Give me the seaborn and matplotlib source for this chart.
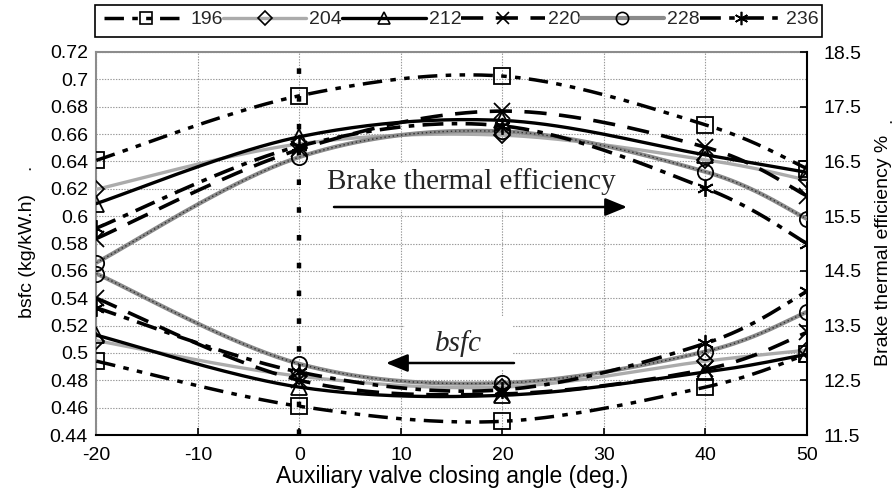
import numpy as np
import matplotlib
matplotlib.use("Agg")
import matplotlib.pyplot as plt
import seaborn as sns
from matplotlib.lines import Line2D
from matplotlib.patches import Rectangle
from matplotlib.transforms import Bbox, TransformedBbox

# ---------------- data ----------------
angles = [-20, 0, 20, 40, 50]
series_names = ["196", "204", "212", "220", "228", "236"]

bsfc_196 = [0.494, 0.461, 0.450, 0.475, 0.499]
bsfc_204 = [0.509, 0.483, 0.475, 0.494, 0.502]
bsfc_212 = [0.513, 0.475, 0.469, 0.486, 0.499]
bsfc_220 = [0.540, 0.480, 0.470, 0.488, 0.515]
bsfc_228 = [0.558, 0.492, 0.478, 0.501, 0.530]
bsfc_236 = [0.533, 0.486, 0.473, 0.507, 0.545]

bte_196 = [16.52, 17.70, 18.06, 17.17, 16.37]
bte_204 = [15.99, 16.82, 16.98, 16.53, 16.16]
bte_212 = [15.73, 16.95, 17.25, 16.62, 16.30]
bte_220 = [15.09, 16.72, 17.42, 16.76, 15.87]
bte_228 = [14.65, 16.58, 17.05, 16.31, 15.45]
bte_236 = [15.28, 16.78, 17.15, 16.01, 15.00]

bsfc_all = [bsfc_196, bsfc_204, bsfc_212, bsfc_220, bsfc_228, bsfc_236]
bte_all = [bte_196, bte_204, bte_212, bte_220, bte_228, bte_236]

# ---------------- styles ----------------
styles = [
    dict(color="black", lw=2.5, ls=(0, (14, 6, 4, 6, 4, 6)), marker="s", ms=11),
    dict(color="#ababab", lw=2.4, ls="-", marker="D", ms=8.5),
    dict(color="black", lw=2.4, ls="-", marker="^", ms=11),
    dict(color="black", lw=2.6, ls=(0, (16, 9)), marker="x", ms=11),
    dict(color="#8a8a8a", lw=3.0, ls="-", marker="o", ms=11),
    dict(color="black", lw=2.6, ls=(0, (15, 6, 4, 6)), marker=(6, 2, 0), ms=12),
]

sns.set_theme(style="white")
plt.rcParams["font.family"] = ["Liberation Sans", "DejaVu Sans"]
plt.rcParams["lines.scale_dashes"] = False

W, H = 894, 496
fig = plt.figure(figsize=(W / 100, H / 100), dpi=100)
L, R, T, B = 96.3, 807, 52, 435
ax = fig.add_axes([L / W, 1 - B / H, (R - L) / W, (B - T) / H])
ax2 = ax.twinx()


def smooth(xs, ys, n=40):
    P = np.column_stack([xs, ys]).astype(float)
    m = len(P)
    pts = []
    for i in range(m - 1):
        p0 = P[i - 1] if i > 0 else P[i]
        p1, p2 = P[i], P[i + 1]
        p3 = P[i + 2] if i + 2 < m else P[i + 1]
        c1 = p1 + (p2 - p0) / 6.0
        c2 = p2 - (p3 - p1) / 6.0
        t = np.linspace(0, 1, n)[:, None]
        if i > 0:
            t = t[1:]
        seg = ((1 - t) ** 3) * p1 + 3 * ((1 - t) ** 2) * t * c1 + 3 * (1 - t) * t ** 2 * c2 + t ** 3 * p2
        pts.append(seg)
    return np.vstack(pts)


def draw(axis, vals, st, idx):
    c = smooth(angles, vals)
    sns.lineplot(x=c[:, 0], y=c[:, 1], ax=axis, sort=False, estimator=None,
                 color=st["color"], linewidth=st["lw"], linestyle=st["ls"], zorder=3)
    if idx == 4:  # textured dark dots on the 228 line
        sns.lineplot(x=c[:, 0], y=c[:, 1], ax=axis, sort=False, estimator=None,
                     color="#303030", linewidth=1.0, linestyle=(0, (1, 2)), zorder=3)
    sns.lineplot(x=angles, y=vals, ax=axis, sort=False, estimator=None,
                 linestyle="", marker=st["marker"], markersize=st["ms"],
                 markerfacecolor="none", markeredgecolor="black",
                 markeredgewidth=1.3, color="black", zorder=4)


for i, st in enumerate(styles):
    draw(ax, bsfc_all[i], st, i)
    draw(ax2, bte_all[i], st, i)

ax.set_xlim(-20, 50)
ax.set_ylim(0.44, 0.72)
ax2.set_ylim(11.5, 18.5)

ax.set_xticks([-20, -10, 0, 10, 20, 30, 40, 50])
ax.set_xticklabels(["-20", "-10", "0", "10", "20", "30", "40", "50"])
yt = np.round(np.arange(0.44, 0.7201, 0.02), 2)
ax.set_yticks(yt)
ax.set_yticklabels([("%g" % v) for v in yt])
ax2.set_yticks([11.5, 12.5, 13.5, 14.5, 15.5, 16.5, 17.5, 18.5])
ax2.set_yticklabels(["11.5", "12.5", "13.5", "14.5", "15.5", "16.5", "17.5", "18.5"])

ax.grid(True, which="major", color="#9a9a9a", linestyle=(0, (1, 1)), linewidth=0.8)
ax.set_axisbelow(True)
ax2.grid(False)

for s in ["left", "top"]:
    ax.spines[s].set_color("#8c8c8c")
    ax.spines[s].set_linewidth(1.5)
ax.spines["bottom"].set_color("black")
ax.spines["bottom"].set_linewidth(1.5)
ax.spines["right"].set_visible(False)
for s in ["left", "top", "bottom"]:
    ax2.spines[s].set_visible(False)
ax2.spines["right"].set_color("black")
ax2.spines["right"].set_linewidth(1.5)

ax.tick_params(axis="x", direction="in", length=5, width=1.2, color="black",
               labelsize=14, pad=9, bottom=True, top=False)
ax.tick_params(axis="y", length=0, labelsize=14, pad=6, left=True)
ax2.tick_params(axis="y", direction="in", length=5, width=1.2, color="black",
                labelsize=14, pad=12, right=True)
for lab in ax.get_xticklabels() + ax.get_yticklabels() + ax2.get_yticklabels():
    lab.set_color("black")

ax.set_xlabel("Auxiliary valve closing angle (deg.)", fontsize=16.5, color="black", labelpad=0)
ax.set_ylabel("")
ax2.set_ylabel("")

fig.text(28 / W, 1 - 256 / H, "bsfc (kg/kW.h)", rotation=90, ha="center", va="center",
         fontsize=14, color="black")
fig.text(26 / W, 1 - 167 / H, ".", rotation=90, ha="center", va="center", fontsize=14)
fig.text(884 / W, 1 - 250 / H, "Brake thermal efficiency %", rotation=90, ha="center",
         va="center", fontsize=14, color="black")
fig.text(887 / W, 1 - 120 / H, ".", rotation=90, ha="center", va="center", fontsize=14)

# vertical reference line at 0 deg
ax.axvline(0, color="black", linewidth=3.2, linestyle=(0, (4, 16)), zorder=2)


def px_x(px):
    return -20 + (px - L) * 70.0 / (R - L)


def px_y(py):
    return 0.72 - (py - T) * 0.28 / (B - T)


# Brake thermal efficiency label
ax.add_patch(Rectangle((px_x(301), px_y(210)), px_x(647) - px_x(301), px_y(163) - px_y(210),
                       facecolor="white", edgecolor="none", zorder=5))
ax.text(px_x(471), px_y(182), "Brake thermal efficiency", fontsize=21,
        family=["Liberation Serif", "DejaVu Serif"], ha="center", va="center", zorder=6)
ax.annotate("", xy=(px_x(627), px_y(207)), xytext=(px_x(334), px_y(207)),
            arrowprops=dict(arrowstyle="-|>,head_length=1.1,head_width=0.45", color="black",
                            lw=1.8, shrinkA=0, shrinkB=0), zorder=6)

# bsfc label
ax.add_patch(Rectangle((px_x(405), px_y(370)), px_x(512) - px_x(405), px_y(316) - px_y(370),
                       facecolor="white", edgecolor="none", zorder=5))
ax.text(px_x(458), px_y(344), "bsfc", fontsize=21, style="italic",
        family=["Liberation Serif", "DejaVu Serif"], ha="center", va="center", zorder=6)
ax.annotate("", xy=(px_x(386), px_y(363)), xytext=(px_x(514), px_y(363)),
            arrowprops=dict(arrowstyle="-|>,head_length=1.1,head_width=0.45", color="black",
                            lw=1.8, shrinkA=0, shrinkB=0), zorder=6)

# legend (frame drawn separately; contents clipped at the right like the reference)
handles = []
for name, st in zip(series_names, styles):
    handles.append(Line2D([], [], color=st["color"], linewidth=st["lw"], linestyle=st["ls"],
                          marker=st["marker"], markersize=st["ms"] * 0.8,
                          markerfacecolor="none", markeredgecolor="black",
                          markeredgewidth=1.2, label=name))
leg = fig.legend(handles=handles, loc="upper left", bbox_to_anchor=(98 / W, 1 - 5 / H),
                 ncol=6, frameon=False, fontsize=14,
                 handlelength=4.3, handletextpad=0.15, columnspacing=0.0, borderpad=0.3,
                 borderaxespad=0)
box_l, box_r, box_t, box_b = 95, 822, 5, 37
frame = Rectangle((box_l / W, 1 - box_b / H), (box_r - box_l) / W, (box_b - box_t) / H,
                  transform=fig.transFigure, facecolor="white", edgecolor="black",
                  linewidth=1.2, zorder=0)
fig.patches.append(frame)
clip = TransformedBbox(Bbox.from_extents(box_l / W, 1 - box_b / H, box_r / W, 1 - box_t / H),
                       fig.transFigure)
for t in leg.get_texts():
    t.set_clip_box(clip)
    t.set_clip_on(True)
for hl in leg.legend_handles:
    hl.set_clip_box(clip)
    hl.set_clip_on(True)

fig.savefig("out.png", dpi=100)
